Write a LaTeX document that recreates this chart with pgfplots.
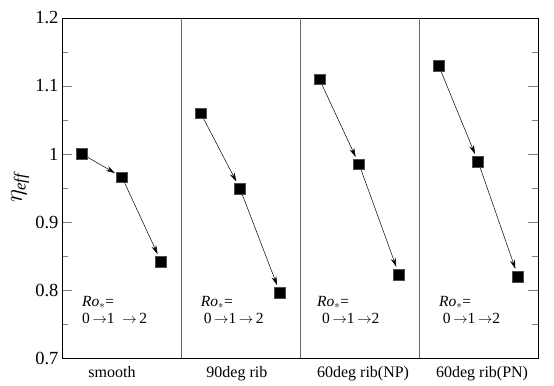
\documentclass[border=0pt]{standalone}
\usepackage{fontspec}
\setmainfont{Liberation Serif}
\usepackage{pgfplots}
\pgfplotsset{compat=1.18}
\usetikzlibrary{arrows.meta}
\begin{document}
\begin{tikzpicture}[rotxt/.style={anchor=base west, inner sep=0pt, font=\fontsize{15.5}{16}\selectfont}]
\begin{axis}[
  scale only axis, width=476pt, height=340pt,
  xmin=0, xmax=4, ymin=0.7, ymax=1.2,
  ytick={0.7,0.8,0.9,1,1.1,1.2},
  minor y tick num=1,
  major tick length=10pt, minor tick length=6pt,
  tick align=inside,
  ytick pos=both,
  xtick={0.42,1.47,2.53,3.53},
  xticklabels={smooth,90deg rib,60deg rib(NP),60deg rib(PN)},
  x tick style={draw=none},
  xticklabel style={font=\fontsize{16}{18}\selectfont, yshift=-5pt},
  yticklabel style={font=\fontsize{18.5}{20}\selectfont},
  /pgf/number format/assume math mode=true,
  extra x ticks={1,2,3},
  extra x tick labels={},
  extra x tick style={grid=major, major grid style={gray!80!black, line width=0.6pt}, tick style={draw=none}},
  axis line style={line width=0.6pt},
  ylabel={\fontsize{24}{26}\selectfont$\eta_{\mathit{eff}}$},
  ylabel style={at={(axis description cs:-0.088,0.5)}, anchor=center},
  clip=false,
]
% arrows
\addplot[black, line width=0.5pt, -{Stealth[length=9pt,width=5pt]}, shorten <=6pt, shorten >=8pt] coordinates {(0.168,1.000) (0.504,0.966)};
\addplot[black, line width=0.5pt, -{Stealth[length=9pt,width=5pt]}, shorten <=6pt, shorten >=8pt] coordinates {(0.504,0.966) (0.832,0.842)};
\addplot[black, line width=0.5pt, -{Stealth[length=9pt,width=5pt]}, shorten <=6pt, shorten >=8pt] coordinates {(1.166,1.060) (1.496,0.949)};
\addplot[black, line width=0.5pt, -{Stealth[length=9pt,width=5pt]}, shorten <=6pt, shorten >=8pt] coordinates {(1.496,0.949) (1.832,0.796)};
\addplot[black, line width=0.5pt, -{Stealth[length=9pt,width=5pt]}, shorten <=6pt, shorten >=8pt] coordinates {(2.163,1.110) (2.496,0.985)};
\addplot[black, line width=0.5pt, -{Stealth[length=9pt,width=5pt]}, shorten <=6pt, shorten >=8pt] coordinates {(2.496,0.985) (2.832,0.823)};
\addplot[black, line width=0.5pt, -{Stealth[length=9pt,width=5pt]}, shorten <=6pt, shorten >=8pt] coordinates {(3.165,1.130) (3.496,0.989)};
\addplot[black, line width=0.5pt, -{Stealth[length=9pt,width=5pt]}, shorten <=6pt, shorten >=8pt] coordinates {(3.496,0.989) (3.832,0.820)};
% markers
\addplot[only marks, mark=square*, mark size=5.4pt, mark options={fill=black, draw=black!70}] coordinates {
(0.168,1.000) (0.504,0.966) (0.832,0.842)
(1.166,1.060) (1.496,0.949) (1.832,0.796)
(2.163,1.110) (2.496,0.985) (2.832,0.823)
(3.165,1.130) (3.496,0.989) (3.832,0.820)};
% text
\node[rotxt] at (axis cs:0.168,0.7755) {\textit{Ro}$_{*}$=};
\node[rotxt] at (axis cs:0.168,0.751) {0\,$\rightarrow$1 \ $\rightarrow$\,2};
\node[rotxt] at (axis cs:1.166,0.7755) {\textit{Ro}$_{*}$=};
\node[rotxt] at (axis cs:1.19,0.751) {0\,$\rightarrow$1\,$\rightarrow$\,2};
\node[rotxt] at (axis cs:2.143,0.7755) {\textit{Ro}$_{*}$=};
\node[rotxt] at (axis cs:2.185,0.751) {0\,$\rightarrow$1\,$\rightarrow$2};
\node[rotxt] at (axis cs:3.168,0.7755) {\textit{Ro}$_{*}$=};
\node[rotxt] at (axis cs:3.20,0.751) {0\,$\rightarrow$1\,$\rightarrow$2};
\end{axis}
\pgfresetboundingbox
\path[use as bounding box] ([shift={(-62pt,-28pt)}]current axis.south west) rectangle ([shift={(16pt,18pt)}]current axis.north east);
\end{tikzpicture}
\end{document}
